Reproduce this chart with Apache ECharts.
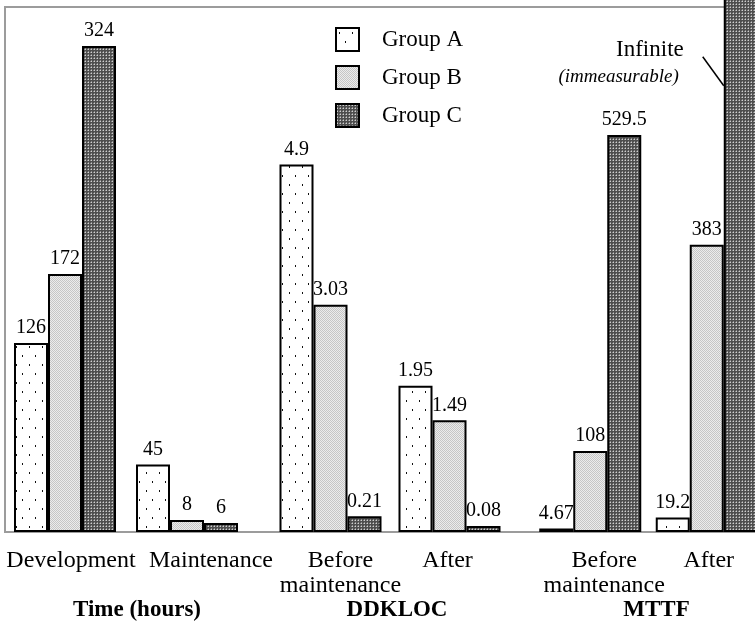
<!DOCTYPE html>
<html>
<head>
<meta charset="utf-8">
<script src="https://cdn.jsdelivr.net/npm/echarts@6/dist/echarts.min.js"></script>
<style>
  html, body { margin: 0; padding: 0; background: #fff; }
  #chart { width: 755px; height: 623px; }
</style>
</head>
<body>
<div id="chart"></div>
<script>
// ---- data ----
const groupNames = ['Group A', 'Group B', 'Group C'];
const panelTitles = ['Time (hours)', 'DDKLOC', 'MTTF'];

const timeCategories = ['Development', 'Maintenance'];
const timeA = [126, 45];
const timeB = [172, 8];
const timeC = [324, 6];

const ddklocCategories = ['Before\nmaintenance', 'After'];
const ddklocA = [4.9, 1.95];
const ddklocB = [3.03, 1.49];
const ddklocC = [0.21, 0.08];

const mttfCategories = ['Before\nmaintenance', 'After'];
const mttfA = [4.67, 19.2];
const mttfB = [108, 383];
const mttfC = [529.5, Infinity];   // group C never failed after maintenance

const axisMax = [350, 7, 700];

// ---- fill patterns ----
function makePattern(w, h, draw) {
  const c = document.createElement('canvas');
  c.width = w; c.height = h;
  const g = c.getContext('2d');
  draw(g, w, h);
  return { image: c, repeat: 'repeat' };
}
const dotted = makePattern(13, 18, (g, w, h) => {
  g.fillStyle = '#fff'; g.fillRect(0, 0, w, h);
  g.fillStyle = '#111';
  g.fillRect(3, 4, 1, 2);
  g.fillRect(9, 13, 1, 2);
});
const lightStipple = makePattern(2, 2, (g) => {
  g.fillStyle = '#ececec'; g.fillRect(0, 0, 2, 2);
  g.fillStyle = '#c6c6c6';
  g.fillRect(0, 0, 1, 1); g.fillRect(1, 1, 1, 1);
});
const darkStipple = makePattern(3, 3, (g) => {
  g.fillStyle = '#4e4e4e'; g.fillRect(0, 0, 3, 3);
  g.fillStyle = '#cfcfcf'; g.fillRect(1, 1, 1, 1);
  g.fillStyle = '#8a8a8a'; g.fillRect(0, 1, 1, 1); g.fillRect(1, 0, 1, 1);
});
const fills = [dotted, lightStipple, darkStipple];

// ---- layout ----
const FONT = 'Liberation Serif';
const PLOT_TOP = 7, PLOT_H = 525;
const panelBoxes = [
  { left: 4, width: 244 },
  { left: 271, width: 238 },
  { left: 532, width: 233 }
];
// horizontal nudges of category labels and panel titles
const labelShift = [[6, 24], [10, -2], [14, 2]];
const titleShift = [11, 7, 8];

const panels = [
  { cats: timeCategories, groups: [timeA, timeB, timeC] },
  { cats: ddklocCategories, groups: [ddklocA, ddklocB, ddklocC] },
  { cats: mttfCategories, groups: [mttfA, mttfB, mttfC] }
];

function shiftPad(dx) {
  return dx >= 0 ? [0, 0, 0, 2 * dx] : [0, -2 * dx, 0, 0];
}

const grid = [{
  left: 5, top: PLOT_TOP, width: 800, height: PLOT_H,
  outerBoundsMode: 'none', containLabel: false,
  show: true, borderColor: '#9c9c9c', borderWidth: 2, backgroundColor: '#fff'
}];
const xAxis = [{ gridIndex: 0, type: 'value', show: false }];
const yAxis = [{ gridIndex: 0, type: 'value', show: false }];
const series = [];

panels.forEach((p, i) => {
  const gi = i + 1;
  grid.push({
    left: panelBoxes[i].left, width: panelBoxes[i].width, top: PLOT_TOP, height: PLOT_H,
    outerBoundsMode: 'none', containLabel: false
  });
  xAxis.push({
    gridIndex: gi,
    type: 'category',
    data: p.cats.map((c, k) => ({ value: c, textStyle: { padding: shiftPad(labelShift[i][k]) } })),
    axisLine: { show: false },
    axisTick: { show: false },
    axisLabel: {
      interval: 0, margin: 16, color: '#000',
      fontFamily: FONT, fontSize: 24, lineHeight: 25
    },
    name: panelTitles[i],
    nameLocation: 'middle',
    nameGap: 67,
    nameMoveOverlap: false,
    nameTextStyle: {
      color: '#000', fontFamily: FONT, fontSize: 23, fontWeight: 'bold',
      padding: shiftPad(titleShift[i])
    }
  });
  yAxis.push({
    gridIndex: gi, type: 'value', min: 0, max: axisMax[i], show: false
  });
  p.groups.forEach((vals, g) => {
    series.push({
      type: 'bar',
      name: groupNames[g],
      xAxisIndex: gi,
      yAxisIndex: gi,
      barWidth: 34,
      barGap: '0%',
      clip: false,
      itemStyle: { color: fills[g], borderColor: '#000', borderWidth: 2 },
      label: {
        show: true, position: 'top', distance: 5,
        color: '#000', fontFamily: FONT, fontSize: 20
      },
      data: vals.map(v => isFinite(v)
        ? v
        : { value: axisMax[i] * 1.03, label: { show: false } })
    });
  });
});

const chart = echarts.init(document.getElementById('chart'), null, { renderer: 'canvas' });
chart.setOption({
  animation: false,
  backgroundColor: '#fff',
  grid, xAxis, yAxis, series,
  legend: {
    data: groupNames,
    orient: 'vertical',
    left: 335, top: 27, padding: 0,
    itemWidth: 23, itemHeight: 23, itemGap: 13,
    icon: 'rect',
    itemStyle: { borderColor: '#000', borderWidth: 2 },
    textStyle: { color: '#000', fontFamily: FONT, fontSize: 23, padding: [0, 0, 0, 18] }
  }
});

// "Infinite" callout pointing at the off-scale bar
const mttfAxis = 3;
const anchor = chart.convertToPixel({ xAxisIndex: mttfAxis, yAxisIndex: mttfAxis }, [mttfCategories[1], 595]);
const barLeft = anchor[0] + 17;
const ay = anchor[1];
chart.setOption({
  graphic: [
    {
      type: 'line', z: 100,
      shape: { x1: barLeft - 21, y1: ay - 29, x2: barLeft, y2: ay },
      style: { stroke: '#000', lineWidth: 1.5 }
    },
    {
      type: 'text', z: 100, x: barLeft - 40, y: ay - 36,
      style: { text: 'Infinite', align: 'right', verticalAlign: 'middle', fill: '#000', font: '23px "Liberation Serif"' }
    },
    {
      type: 'text', z: 100, x: barLeft - 45, y: ay - 9,
      style: { text: '(immeasurable)', align: 'right', verticalAlign: 'middle', fill: '#000', font: 'italic 19px "Liberation Serif"' }
    }
  ]
});
</script>
</body>
</html>
